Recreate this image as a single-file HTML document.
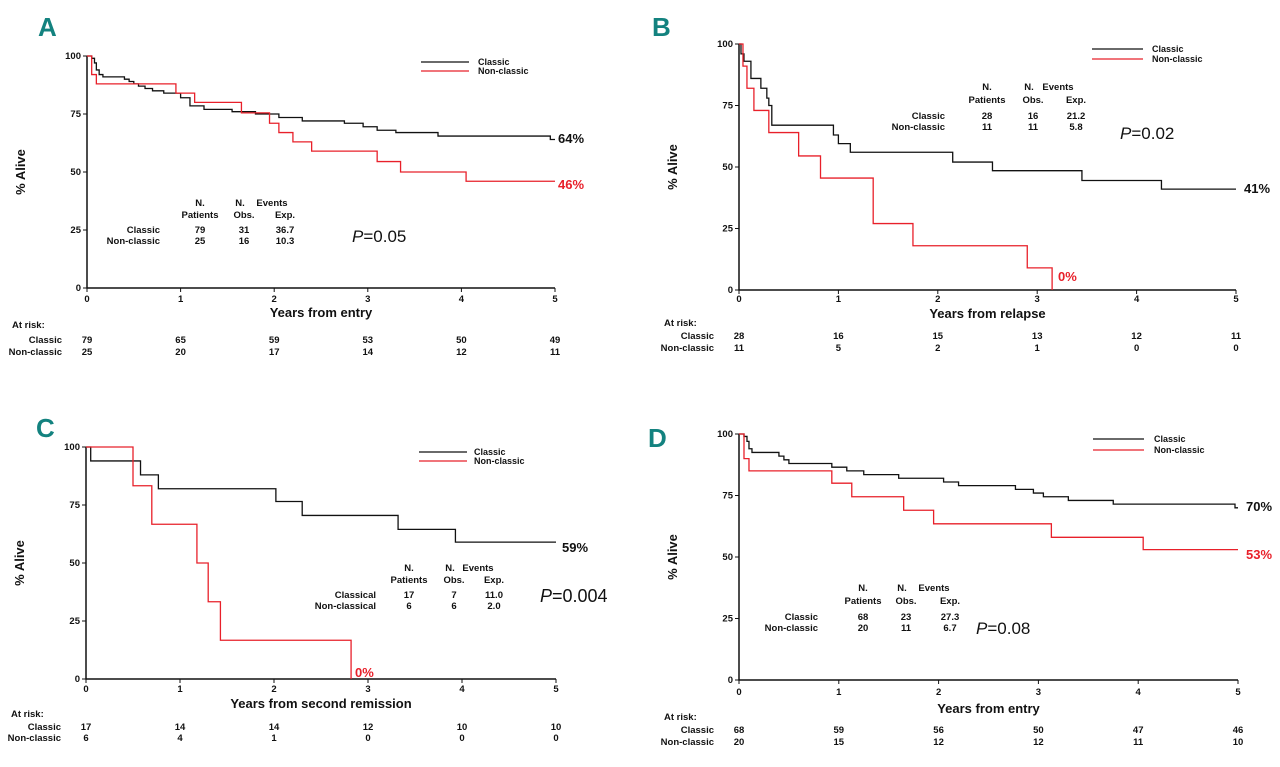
<!DOCTYPE html>
<html><head><meta charset="utf-8"><style>
body{margin:0;background:#fff;}
svg{display:block;font-family:"Liberation Sans",sans-serif;}
text{font-size:9.5px;font-weight:bold;fill:#111;}
.lab{font-size:26px;fill:#13827f;font-weight:bold;}
.axt{font-size:13px;}
.pct{font-size:13px;}
.pv{font-size:17px;font-weight:normal;}
.leg{font-size:9px;}
</style></head><body>
<svg id="fig" width="1280" height="767" viewBox="0 0 1280 767"></svg>
<script>
// Panel A
const aClassicT=[0,0.05,0.08,0.1,0.13,0.17,0.4,0.45,0.5,0.55,0.62,0.7,0.82,1.0,1.1,1.25,1.55,1.8,2.05,2.3,2.75,2.95,3.1,3.3,3.75,4.95,5];
const aClassicS=[100,99,97,94,92,91,90,89,88,87,86,85,84,82,78.5,77,76,75,73.5,72,71,69.5,68,67,65.5,64,64];
const aNonT=[0,0.05,0.1,0.95,1.15,1.65,1.95,2.05,2.2,2.4,3.1,3.35,4.05,5];
const aNonS=[100,92,88,84,80,75.5,71,67,63,59,54.5,50,46,46];
const aRiskClassic=[79,65,59,53,50,49];
const aRiskNon=[25,20,17,14,12,11];
// Panel B
const bClassicT=[0,0.02,0.05,0.12,0.22,0.28,0.3,0.33,0.95,1.0,1.12,2.15,2.55,3.45,4.25,5];
const bClassicS=[100,96,93,86,82,78,75,67,63,59.5,56,52,48.5,44.5,41,41];
const bNonT=[0,0.04,0.08,0.15,0.3,0.6,0.82,1.35,1.75,2.9,3.15];
const bNonS=[100,91,82,73,64,54.5,45.5,27,18,9,0];
const bRiskClassic=[28,16,15,13,12,11];
const bRiskNon=[11,5,2,1,0,0];
// Panel C
const cClassicT=[0,0.05,0.58,0.77,2.02,2.3,3.32,3.93,5];
const cClassicS=[100,94,88,82,76.5,70.5,64.5,59,59];
const cNonT=[0,0.5,0.7,1.18,1.3,1.43,2.82];
const cNonS=[100,83.3,66.7,50,33.3,16.7,0];
const cRiskClassic=[17,14,14,12,10,10];
const cRiskNon=[6,4,1,0,0,0];
// Panel D
const dClassicT=[0,0.05,0.08,0.1,0.13,0.4,0.45,0.5,0.93,1.08,1.25,1.6,2.05,2.2,2.77,2.95,3.05,3.3,3.75,4.97,5];
const dClassicS=[100,99,97,94,92.5,91,89.5,88,86.5,85,83.5,82,80.5,79,77.5,76,74.5,73,71.5,70,70];
const dNonT=[0,0.05,0.1,0.93,1.13,1.65,1.95,3.13,4.05,5];
const dNonS=[100,90,85,80,74.5,69,63.5,58,53,53];
const dRiskClassic=[68,59,56,50,47,46];
const dRiskNon=[20,15,12,12,11,10];
const yTicks=[0,25,50,75,100];
const xTicks=[0,1,2,3,4,5];

const panels=[
 {id:'a',L:'A',lx:38,ly:36,x0:87,x1:555,y100:56,y0:288,tickY:302,titleY:317,title:'Years from entry',ar:[328,343,355],rowR:62,
  leg:[421,469,62,71,478],c:[aClassicT,aClassicS],n:[aNonT,aNonS],rc:aRiskClassic,rn:aRiskNon,
  tab:{hy:[206,218],ry:[233,244],cols:[200,244,285],ev:272,lr:160,names:['Classic','Non-classic'],vals:[['79','31','36.7'],['25','16','10.3']]},
  pv:['0.05',352,242],pc:['64%',558,143],pn:['46%',558,189,'#e8202a']},
 {id:'b',L:'B',lx:652,ly:36,x0:739,x1:1236,y100:44,y0:290,tickY:302,titleY:318,title:'Years from relapse',ar:[326,339,351],rowR:714,
  leg:[1092,1143,49,59,1152],c:[bClassicT,bClassicS],n:[bNonT,bNonS],rc:bRiskClassic,rn:bRiskNon,
  tab:{hy:[90,103],ry:[119,130],cols:[987,1033,1076],ev:1058,lr:945,names:['Classic','Non-classic'],vals:[['28','16','21.2'],['11','11','5.8']]},
  pv:['0.02',1120,139],pc:['41%',1244,193],pn:['0%',1058,281,'#e8202a']},
 {id:'c',L:'C',lx:36,ly:437,x0:86,x1:556,y100:447,y0:679,tickY:692,titleY:708,title:'Years from second remission',ar:[717,730,741],rowR:61,
  leg:[419,467,452,461,474],c:[cClassicT,cClassicS],n:[cNonT,cNonS],rc:cRiskClassic,rn:cRiskNon,
  tab:{hy:[571,583],ry:[598,609],cols:[409,454,494],ev:478,lr:376,names:['Classical','Non-classical'],vals:[['17','7','11.0'],['6','6','2.0']]},
  pv:['0.004',540,602,18],pc:['59%',562,552],pn:['0%',355,677,'#e8202a']},
 {id:'d',L:'D',lx:648,ly:447,x0:739,x1:1238,y100:434,y0:680,tickY:695,titleY:713,title:'Years from entry',ar:[720,733,745],rowR:714,
  leg:[1093,1144,439,450,1154],c:[dClassicT,dClassicS],n:[dNonT,dNonS],rc:dRiskClassic,rn:dRiskNon,
  tab:{hy:[591,604],ry:[620,631],cols:[863,906,950],ev:934,lr:818,names:['Classic','Non-classic'],vals:[['68','23','27.3'],['20','11','6.7']]},
  pv:['0.08',976,634],pc:['70%',1246,511],pn:['53%',1246,559,'#e8202a']}
];
const svg=document.getElementById('fig');
const NS='http://www.w3.org/2000/svg';
function mk(tag,attrs,parent,txt){const e=document.createElementNS(NS,tag);for(const k in attrs)e.setAttribute(k,attrs[k]);if(txt!==undefined)e.textContent=txt;parent.appendChild(e);return e;}
panels.forEach(p=>{
 const g=mk('g',{},svg);
 
 
 const xs=t=>p.x0+(p.x1-p.x0)*t/5;
 const ys=s=>p.y0-(p.y0-p.y100)*s/100;
 let t=mk('text',{x:p.lx,y:p.ly,class:'lab'},g,p.L);
 
 
 let ax=mk('path',{d:`M${p.x0},${p.y100}V${p.y0}H${p.x1}`,stroke:'#111','stroke-width':1.5,fill:'none'},g);
 
 
 yTicks.forEach(v=>{mk('line',{x1:p.x0-4,x2:p.x0,y1:ys(v),y2:ys(v),stroke:'#111'},g);
  const tt=mk('text',{x:p.x0-6,y:ys(v)+3,'text-anchor':'end'},g,v);
  
  });
 xTicks.forEach(v=>{mk('line',{x1:xs(v),x2:xs(v),y1:p.y0,y2:p.y0+4,stroke:'#111'},g);
  const tt=mk('text',{x:xs(v),y:p.tickY,'text-anchor':'middle'},g,v);
  
  });
 const yt=mk('text',{x:0,y:0,class:'axt','text-anchor':'middle',transform:`translate(${p.x0-62},${(p.y0+p.y100)/2}) rotate(-90)`},g,'% Alive');
 
 
 const xt=mk('text',{x:(p.x0+p.x1)/2,y:p.titleY,class:'axt','text-anchor':'middle'},g,p.title);
 
 
 [[p.c,'#111','classic'],[p.n,'#e8202a','non-classic']].forEach(([d,col,nm])=>{
  const T=d[0],S=d[1];let s=`M${xs(T[0])},${ys(S[0])}`;
  for(let i=1;i<T.length;i++){s+=`H${xs(T[i])}V${ys(S[i])}`;}
  const pa=mk('path',{d:s,stroke:col,'stroke-width':1.3,fill:'none'},g);
  
  
 });
 const L=p.leg;
 mk('line',{x1:L[0],x2:L[1],y1:L[2],y2:L[2],stroke:'#111','stroke-width':1.3},g);
 mk('line',{x1:L[0],x2:L[1],y1:L[3],y2:L[3],stroke:'#e8202a','stroke-width':1.3},g);
 let le=mk('text',{x:L[4],y:L[2]+3,class:'leg'},g,'Classic');
 
 
 le=mk('text',{x:L[4],y:L[3]+3,class:'leg'},g,'Non-classic');
 
 
 const tb=p.tab;const tg=mk('g',{},g);
 
 
 mk('text',{x:tb.cols[0],y:tb.hy[0],'text-anchor':'middle'},tg,'N.');
 mk('text',{x:tb.cols[0],y:tb.hy[1],'text-anchor':'middle'},tg,'Patients');
 mk('text',{x:tb.cols[1]-4,y:tb.hy[0],'text-anchor':'middle'},tg,'N.');
 mk('text',{x:tb.cols[1],y:tb.hy[1],'text-anchor':'middle'},tg,'Obs.');
 mk('text',{x:tb.ev,y:tb.hy[0],'text-anchor':'middle'},tg,'Events');
 mk('text',{x:tb.cols[2],y:tb.hy[1],'text-anchor':'middle'},tg,'Exp.');
 tb.names.forEach((n,i)=>{mk('text',{x:tb.lr,y:tb.ry[i],'text-anchor':'end'},tg,n);
  tb.vals[i].forEach((v,j)=>mk('text',{x:tb.cols[j],y:tb.ry[i],'text-anchor':'middle'},tg,v));});
 const pv=mk('text',{x:p.pv[1],y:p.pv[2],class:'pv',style:p.pv[3]?`font-size:${p.pv[3]}px`:''},g);
 
 
 mk('tspan',{'font-style':'italic'},pv,'P');mk('tspan',{},pv,'='+p.pv[0]);
 let pc=mk('text',{x:p.pc[1],y:p.pc[2],class:'pct'},g,p.pc[0]);
 
 
 pc=mk('text',{x:p.pn[1],y:p.pn[2],class:'pct',style:'fill:'+p.pn[3]},g,p.pn[0]);
 
 
 const rg=mk('g',{},g);
 
 
 mk('text',{x:p.rowR-50,y:p.ar[0]},rg,'At risk:');
 mk('text',{x:p.rowR,y:p.ar[1],'text-anchor':'end'},rg,'Classic');
 mk('text',{x:p.rowR,y:p.ar[2],'text-anchor':'end'},rg,'Non-classic');
 p.rc.forEach((v,i)=>mk('text',{x:xs(xTicks[i]),y:p.ar[1],'text-anchor':'middle'},rg,v));
 p.rn.forEach((v,i)=>mk('text',{x:xs(xTicks[i]),y:p.ar[2],'text-anchor':'middle'},rg,v));
});
</script>
</body></html>
